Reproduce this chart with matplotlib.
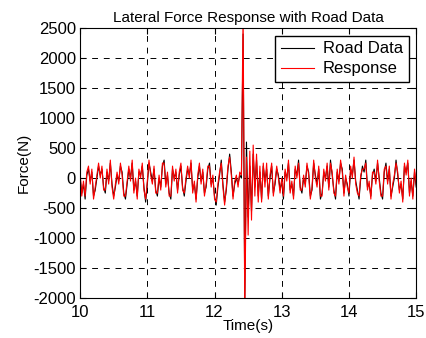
import numpy as np
import matplotlib
matplotlib.use('Agg')
import matplotlib.pyplot as plt

# time axis: 10 s .. 15 s, 0.025 s steps (201 samples)
t_start, t_end = 10.0, 15.0

road = [
    0, -250, -100, -350, 50, 150, -50, 100, -300, -200, 0, 200, 50, 150, -150, -250, 100, -50, 250, -100,
    -300, -150, 50, -50, 200, 100, -250, -350, -100, 150, 0, 250, -200, -50, -300, 100, 50, 200, -150, -400,
    -100, 250, 100, -50, 150, -200, -300, 0, -150, 200, 300, -100, 50, -250, -350, 150, 0, 100, -200, 50,
    200, -150, -300, -50, 150, 50, 250, -200, -100, -350, 0, 200, -50, 100, -250, -150, 150, 250, -100, 0,
    -300, -450, -150, 50, 300, -100, -400, -200, 150, 400, 100, -300, -100, 0, -100, 50, 0,
    2400, -2000,
    600, -650, 200, -550, 400, -150, 300, -300, 100, -350, 200, -50, 150, -300, 0, 200, -250, -100, 150, 50, -200, -50,
    -350, 100, 0, 250, -200, -100, -300, 150, 50, 300, -150, -250, 0, -100, 200, 100, -300, -200, 250, 50,
    -100, 150, -350, -250, 100, 0, 200, -150, 300, 50, -200, -350, 100, -50, 250, 150, -250, 0, -100, -300,
    150, 50, 300, -50, -200, -350, 0, 200, 100, 300, -150, -100, -300, 50, 150, -50, 250, 0, -250, -350,
    100, 250, -50, 150, -300, -150, 0, 300, 50, -200, -100, -350, 200, 100, 250, -250, -50, -300, 100, -150,
]

response = [
    100, -300, -50, -300, 100, 200, -100, 150, -350, -150, 50, 250, 0, 200, -200, -200, 150, -100, 300, -150,
    -350, -100, 100, -100, 250, 50, -300, -300, -50, 200, -50, 300, -250, 0, -350, 150, 0, 250, -200, -350,
    -50, 300, 50, -100, 200, -250, -250, 50, -200, 250, 250, -150, 100, -300, -300, 200, -50, 150, -250, 100,
    250, -200, -250, 0, 200, 0, 300, -250, -50, -400, 50, 250, -100, 150, -300, -100, 200, 200, -150, 50,
    -350, -400, -100, 100, 250, -150, -450, -150, 200, 350, 50, -350, -50, 50, -150, 100, 50,
    2800, -2300,
    350, -950, 450, -700, 550, -300, 400, -400, 200, -400, 250, -150, 250, -350, 50, 250, -300, -50, 200, 0, -250, 0,
    -300, 150, -50, 300, -250, -50, -350, 200, 0, 250, -200, -200, 50, -150, 250, 50, -350, -150, 300, 0,
    -150, 200, -300, -300, 150, -50, 250, -200, 250, 100, -250, -300, 150, -100, 300, 100, -300, 50, -150, -250,
    200, 0, 350, -100, -250, -300, 50, 150, 150, 250, -200, -50, -350, 100, 100, -100, 300, -50, -300, -300,
    150, 200, -100, 200, -350, -100, 50, 250, 100, -250, -50, -400, 250, 50, 300, -300, 0, -350, 150, -100,
]

t = np.linspace(t_start, t_end, len(road))

plt.rcParams['font.family'] = ['Liberation Sans', 'DejaVu Sans']
plt.rcParams['axes.unicode_minus'] = False

fig = plt.figure(figsize=(4.26, 3.38), dpi=100)
ax = fig.add_axes([0.188, 0.118, 0.789, 0.799])

ax.plot(t, road, c='k', lw=0.8, label='Road Data')
ax.plot(t, response, c='r', lw=0.8, label='Response')

ax.set_xlim(10, 15)
ax.set_ylim(-2000, 2500)
ax.set_xticks(range(10, 16))
ax.set_yticks(range(-2000, 2501, 500))
ax.grid(True, color='k', linestyle=(0, (6, 6)), lw=0.7)
ax.tick_params(direction='in', top=True, right=True, labelsize=12, length=4)
ax.tick_params(axis='x', pad=5)
ax.tick_params(axis='y', pad=3)
for s in ax.spines.values():
    s.set_linewidth(0.8)

ax.set_title('Lateral Force Response with Road Data', fontsize=11, pad=4)
ax.set_xlabel('Time(s)', fontsize=11, labelpad=-1)
ax.set_ylabel('Force(N)', fontsize=11, labelpad=2)

leg = ax.legend(loc='upper right', fontsize=12, fancybox=False, edgecolor='k',
                framealpha=1, handlelength=2.0, borderaxespad=0.45,
                labelspacing=0.3, borderpad=0.35, handletextpad=0.5)
leg.get_frame().set_linewidth(1.0)

fig.savefig('out.png', dpi=100)
